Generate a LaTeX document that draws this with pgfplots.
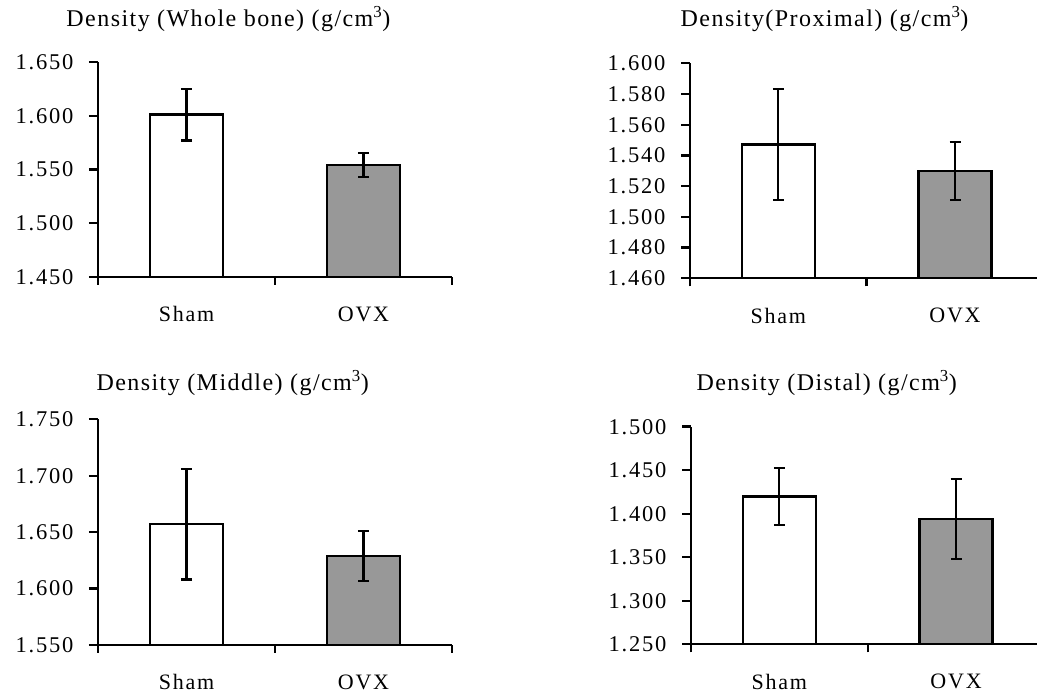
\documentclass[border=0pt]{standalone}
\usepackage{fontspec}
\setmainfont{Liberation Serif}
\newfontfamily\lsfont[LetterSpace=8]{Liberation Serif}
\newfontfamily\tfont[LetterSpace=6]{Liberation Serif}
\usepackage{pgfplots}
\pgfplotsset{compat=1.18}
\definecolor{barg}{RGB}{152,152,152}
\pgfplotsset{
  dens/.style={
    scale only axis,
    anchor=south west,
    axis lines*=left,
    axis line style={line width=2.4pt},
    xmin=-0.5,
    xtick={0,1},
    xticklabels={Sham,OVX},
    minor xtick={-0.5,0.5,1.5},
    x tick style={draw=none},
    minor x tick style={line width=2.4pt,draw=black},
    y tick style={line width=2.4pt,black},
    tick align=outside,
    major tick length=9pt,
    minor tick length=8pt,
    ytick pos=left,
    xtick pos=bottom,
    ybar, bar shift=0pt, bar width=0.412,
    /pgf/number format/.cd, fixed, fixed zerofill, precision=3, assume math mode=true,
    /pgfplots/.cd,
    yticklabel style={font=\lsfont\fontsize{22.5}{22.5}\selectfont, xshift=-12pt},
    xticklabel style={font=\lsfont\fontsize{22}{22}\selectfont, yshift=-17pt},
    title style={font=\tfont\fontsize{24}{24}\selectfont, anchor=base west},
    clip=true,
  },
  shambar/.style={fill=white, draw=black, line width=2.4pt,
    error bars/.cd, y dir=both, y explicit,
    error bar style={line width=2.2pt,black},
    error mark options={rotate=90, mark size=5.5pt, line width=2.2pt, black}},
  ovxbar/.style={fill=barg, draw=black, line width=2.4pt,
    error bars/.cd, y dir=both, y explicit,
    error bar style={line width=2.2pt,black},
    error mark options={rotate=90, mark size=5.5pt, line width=2.2pt, black}},
}
\begin{document}
\begin{tikzpicture}[x=1pt,y=1pt]
\useasboundingbox (0,0) rectangle (1037,698);
% Panel 1: whole bone
\begin{axis}[dens, at={(98pt,421pt)}, width=354pt, height=215pt,
  xmax=1.5, ymin=1.45, ymax=1.65,
  ytick={1.45,1.5,1.55,1.6,1.65},
  title={Density (Whole bone) (g/cm\textsuperscript{3})},
  title style={at={(rel axis cs:-0.099,1.135)}}]
\addplot[shambar] coordinates {(0,1.601) +- (0,0.024)};
\addplot[ovxbar] coordinates {(1,1.554) +- (0,0.011)};
\end{axis}
% Panel 2: proximal
\begin{axis}[dens, at={(690pt,419.7pt)}, width=347pt, height=215pt,
  xmax=1.464, ymin=1.46, ymax=1.60,
  ytick={1.46,1.48,1.50,1.52,1.54,1.56,1.58,1.60},
  title={Density(Proximal) (g/cm\textsuperscript{3})},
  title style={at={(rel axis cs:-0.037,1.141)}}]
\addplot[shambar] coordinates {(0,1.547) +- (0,0.036)};
\addplot[ovxbar] coordinates {(1,1.530) +- (0,0.019)};
\end{axis}
% Panel 3: middle
\begin{axis}[dens, at={(98pt,53pt)}, width=354pt, height=225.7pt,
  xmax=1.5, ymin=1.55, ymax=1.75,
  ytick={1.55,1.6,1.65,1.7,1.75},
  title={Density (Middle) (g/cm\textsuperscript{3})},
  title style={at={(rel axis cs:-0.014,1.100)}}]
\addplot[shambar] coordinates {(0,1.657) +- (0,0.049)};
\addplot[ovxbar] coordinates {(1,1.629) +- (0,0.022)};
\end{axis}
% Panel 4: distal
\begin{axis}[dens, at={(691pt,53.7pt)}, width=346pt, height=217.6pt,
  xmax=1.458, ymin=1.25, ymax=1.50,
  ytick={1.25,1.3,1.35,1.4,1.45,1.5},
  title={Density (Distal) (g/cm\textsuperscript{3})},
  title style={at={(rel axis cs:0.006,1.138)}}]
\addplot[shambar] coordinates {(0,1.420) +- (0,0.033)};
\addplot[ovxbar] coordinates {(1,1.394) +- (0,0.046)};
\end{axis}
\end{tikzpicture}
\end{document}
